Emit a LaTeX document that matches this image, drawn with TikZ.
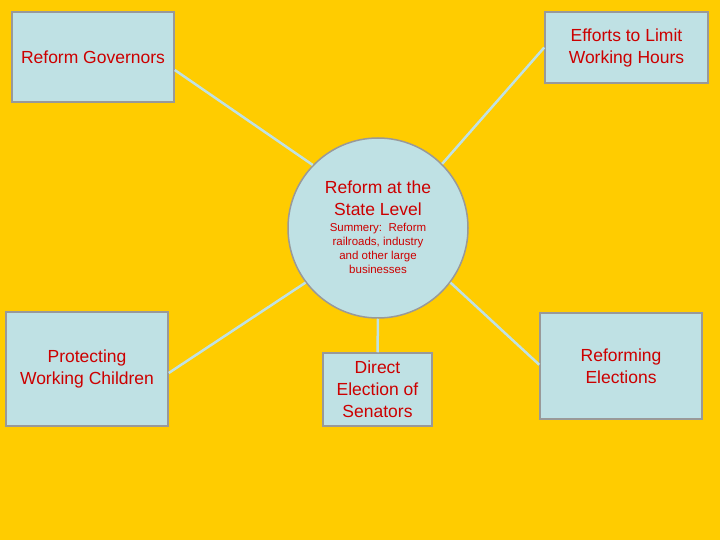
\documentclass[tikz,border=0pt]{standalone}
\usepackage{fontspec}
\setmainfont{Liberation Sans}
\begin{document}
\begin{tikzpicture}[x=1pt,y=-1pt,
  big/.style={font=\fontsize{17.5}{22}\selectfont},
  box/.style={draw=gray!80,line width=1.5pt,fill=boxc,align=center,text=red!80!black,big,inner sep=2pt},
  lbl/.style={align=center,text=red!80!black},
  conn/.style={draw=linec,line width=2.5pt}]
\definecolor{bg}{HTML}{FFCC00}
\definecolor{boxc}{HTML}{BFE1E4}
\definecolor{linec}{HTML}{BFE1E4}
\fill[bg] (0,0) rectangle (720,540);
\useasboundingbox (0,0) rectangle (720,540);
\node[box,minimum width=162pt,minimum height=90pt] (gov) at (93,57) {Reform Governors};
\node[box,minimum width=163pt,minimum height=71pt] (eff) at (626.5,47.5) {Efforts to Limit\\Working Hours};
\node[box,circle,minimum size=180pt] (c) at (378,228) {};
\node[lbl,big] (ct) at (378,198) {Reform at the\\State Level};
\node[lbl,font=\fontsize{11.5}{14}\selectfont] (cs) at (378,248) {Summery:\ \ Reform\\railroads, industry\\and other large\\businesses};
\node[box,minimum width=162pt,minimum height=114pt] (prot) at (87,369) {Protecting\\Working Children};
\node[box,minimum width=109pt,minimum height=73pt] (dir) at (377.5,389.5) {Direct\\Election of\\Senators};
\node[box,minimum width=162pt,minimum height=106pt,anchor=north] (refel) at (621,312) {};
\node[lbl,big] (reft) at (621,366) {Reforming\\Elections};
\draw[conn] ([yshift=-13pt]gov.east) -- (c.136);
\draw[conn] (eff.west) -- (c.45);
\draw[conn] (c.217) -- ([yshift=-4pt]prot.east);
\draw[conn] (c.south) -- (dir.north);
\draw[conn] (c.-37) -- ([yshift=1pt]refel.west);
\end{tikzpicture}
\end{document}
